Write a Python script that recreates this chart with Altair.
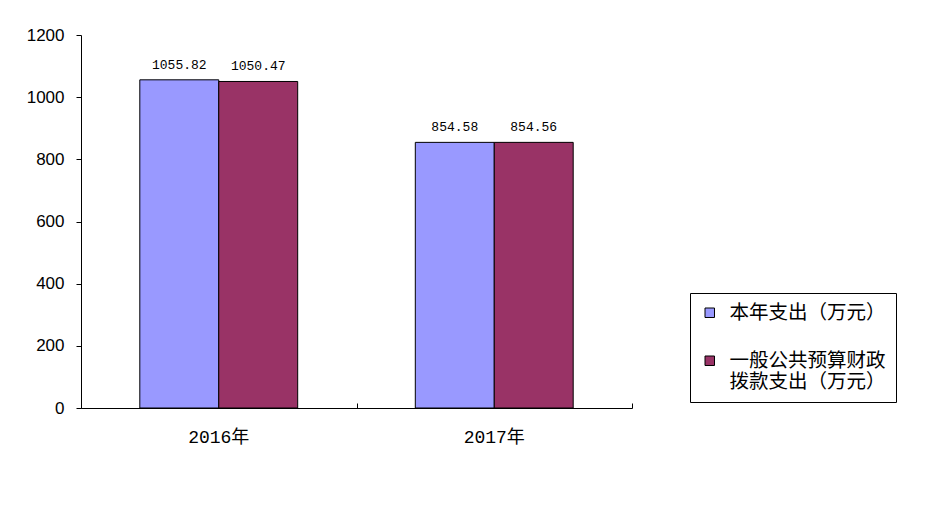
import altair as alt
import pandas as pd

years = ["2016年", "2017年"]
series = ["本年支出（万元）", "一般公共预算财政拨款支出（万元）"]
spend_total = [1055.82, 854.58]
spend_budget = [1050.47, 854.56]
colors = ["#9999FF", "#993366"]
y_ticks = [0, 200, 400, 600, 800, 1000, 1200]

rows = []
for i, yr in enumerate(years):
    rows.append({"year": yr, "series": series[0], "value": spend_total[i]})
    rows.append({"year": yr, "series": series[1], "value": spend_budget[i]})
df = pd.DataFrame(rows)

x_scale = alt.Scale(paddingInner=0, paddingOuter=0)
x_enc = alt.X(
    "year:N",
    sort=years,
    title=None,
    scale=x_scale,
    axis=alt.Axis(
        orient="bottom",
        labelAngle=0,
        labelFont="Liberation Mono, Noto Sans CJK SC",
        labelFontSize=18,
        labelColor="black",
        labelPadding=20,
        ticks=False,
        domainColor="black",
        domainWidth=1,
    ),
)
x_enc_ticks = alt.X(
    "year:N",
    sort=years,
    title=None,
    axis=alt.Axis(
        orient="top",
        offset=-373,
        labels=False,
        domain=False,
        tickBand="extent",
        tickColor="black",
        tickSize=5,
    ),
)
xoff = alt.XOffset("series:N", sort=series, scale=alt.Scale(paddingOuter=0.745, paddingInner=0))
y_enc = alt.Y(
    "value:Q",
    title=None,
    scale=alt.Scale(domain=[0, 1200], nice=False),
    axis=alt.Axis(
        values=y_ticks,
        format="d",
        grid=False,
        labelFont="Liberation Sans",
        labelFontSize=17,
        labelColor="black",
        labelPadding=12,
        tickColor="black",
        tickSize=5,
        domainColor="black",
        domainWidth=1,
    ),
)

label_expr = ("datum.label == '一般公共预算财政拨款支出（万元）' ? "
              "['一般公共预算财政', '拨款支出（万元）'] : datum.label")

bars = alt.Chart(df).mark_bar(stroke="black", strokeWidth=1).encode(
    x=x_enc,
    xOffset=xoff,
    y=y_enc,
    color=alt.Color(
        "series:N",
        sort=series,
        scale=alt.Scale(domain=series, range=colors),
        legend=alt.Legend(
            title=None,
            orient="none",
            legendX=609,
            legendY=258,
            labelFont="Noto Sans CJK SC",
            labelFontSize=19.5,
            labelColor="black",
            labelLimit=400,
            labelExpr=label_expr,
            labelOffset=10,
            symbolType="square",
            symbolSize=90,
            symbolStrokeColor="black",
            symbolStrokeWidth=1,
            rowPadding=27,
            strokeColor="black",
            fillColor="white",
            padding=10,
        ),
    ),
)

texts = alt.Chart(df).mark_text(
    dy=-8, baseline="bottom", font="Liberation Mono", fontSize=13, color="black"
).encode(
    x=x_enc_ticks,
    xOffset=alt.XOffset("series:N", sort=series),
    y=alt.Y("value:Q"),
    text=alt.Text("value:Q", format=".2f"),
)

chart = (
    alt.layer(bars, texts)
    .properties(
        width=551,
        height=373,
        autosize=alt.AutoSizeParams(type="none"),
        padding={"left": 73, "top": 27, "right": 290, "bottom": 100},
        background="white",
    )
    .configure_view(stroke=None)
)

chart.save("out.html", embed_options={"renderer": "svg", "actions": False})
